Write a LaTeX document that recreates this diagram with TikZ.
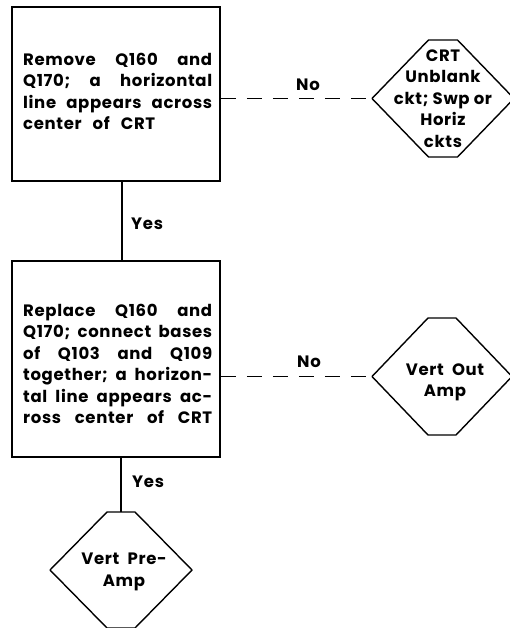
\documentclass[tikz,border=0pt]{standalone}
\usepackage{fontspec}
\setmainfont{Poppins}[LetterSpace=4]
\begin{document}
\begin{tikzpicture}[x=1pt,y=-1pt,
  txt/.style={font=\bfseries\fontsize{16.5}{21.4}\selectfont, inner sep=0pt},
  box/.style={draw, line width=1.7pt, inner sep=0pt, minimum width=208pt},
  boxtxt/.style={txt, text width=189pt, align=left, anchor=north west},
  hexl/.style={line width=1.4pt, line join=round},
  conn/.style={line width=1.5pt},
  dconn/.style={line width=1.5pt, dash pattern=on 15pt off 11pt}]
\useasboundingbox (0,0) rectangle (509,628);
\newcommand\jl[1]{\makebox[189pt]{#1}}
\newcommand\hexshape[6]{%
  \draw[hexl] (#2-#6,#3-#5) -- (#2+#6,#3-#5) -- (#2+#4,#3) -- (#2+#6,#3+#5)
     -- (#2-#6,#3+#5) -- (#2-#4,#3) -- cycle;
  \coordinate (#1w) at (#2-#4,#3);
  \coordinate (#1n) at (#2,#3-#5);}
% boxes
\node[box, minimum height=174pt] (box1) at (116,94) {};
\node[boxtxt] (box1txt) at (23,53)
  {\jl{Remove\hfill Q160\hfill and}\\
   \jl{Q170;\hfill a\hfill horizontal}\\
   \jl{line\hfill appears\hfill across}\\
   center\ \ of\ \ CRT};
\node[box, minimum height=196pt] (box2) at (116,359) {};
\node[boxtxt] (box2txt) at (23,304)
  {\jl{Replace\hfill Q160\hfill and}\\
   \jl{Q170;\hfill connect\hfill bases}\\
   \jl{of\hfill Q103\hfill and\hfill Q109}\\
   \jl{together;\hfill a\hfill horizon-}\\
   \jl{tal\hfill line\hfill appears\hfill ac-}\\
   \jl{ross\hfill center\hfill of\hfill CRT}};
% hexagonal decision shapes
\hexshape{d1}{443}{98.5}{71}{58.5}{14.5}
\hexshape{d2}{442}{376.5}{70}{58.5}{14}
\hexshape{d3}{121}{570}{71}{58}{14}
\node[txt, align=center] (t1) at (443,98.5) {CRT\\Unblank\\ckt; Swp or\\Horiz\\ckts};
\node[txt, align=center] (t2) at (445,382.5) {Vert~ Out\\Amp};
\node[txt, align=center] (t3) at (124,572) {Vert~ Pre-\\Amp};
% connectors
\coordinate (v1) at (122,0);
\draw[conn] (box1.south -| v1) -- (box2.north -| v1);
\draw[conn] (box2.south -| d3n) -- (d3n);
\draw[dconn] (box1.east |- d1w) -- (d1w);
\draw[dconn] (box2.east |- d2w) -- (d2w);
% labels
\node[txt, anchor=west] (yes1) at (131,224) {Yes};
\node[txt, anchor=west] (yes2) at (132,482) {Yes};
\node[txt] (no1) at (308,85) {No};
\node[txt] (no2) at (309,362) {No};
\end{tikzpicture}
\end{document}
